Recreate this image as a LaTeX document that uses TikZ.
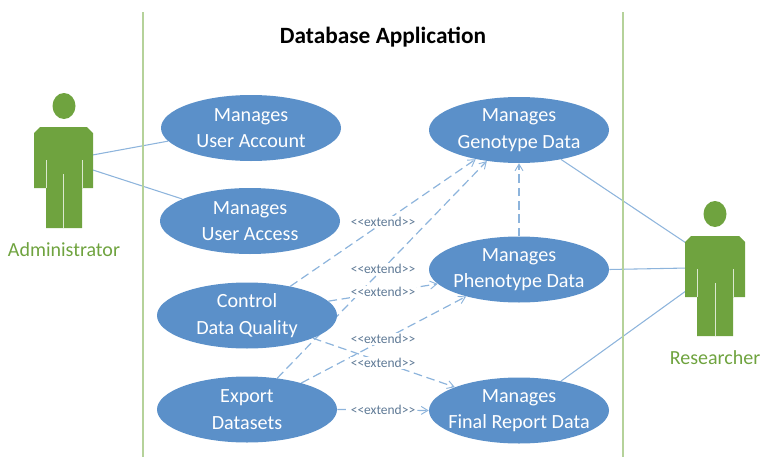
\documentclass[tikz,border=0pt]{standalone}
\usepackage{fontspec}
\setmainfont{Carlito}
\usetikzlibrary{shapes.geometric,arrows.meta,backgrounds}
\definecolor{ucblue}{HTML}{5B90C9}
\definecolor{linkblue}{HTML}{8DB4DC}
\definecolor{actgreen}{HTML}{6FA33F}
\definecolor{lblgray}{HTML}{5F7A96}
\definecolor{frameg}{HTML}{B5D29A}
\newcommand{\extendtxt}{<{}<extend>{}>}
\tikzset{
  usecase/.style={ellipse,fill=ucblue,text=white,minimum width=135pt,minimum height=49.5pt,inner xsep=-20pt,inner ysep=-6pt,align=center,font=\fontsize{15.1}{20}\selectfont},
  solidlink/.style={draw=linkblue,line width=0.8pt},
  extendlink/.style={draw=linkblue,line width=0.9pt,dash pattern=on 6.5pt off 3.5pt,-{Straight Barb[length=5pt,width=6pt,line width=0.7pt]}},
  extendlbl/.style={font=\fontsize{10.1}{12}\selectfont,text=lblgray,fill=white,inner sep=0.6pt},
  actorbox/.style={rectangle,minimum width=44.25pt,minimum height=45.75pt,inner sep=0pt,outer sep=0pt},
  actorlbl/.style={font=\fontsize{15}{17}\selectfont,text=actgreen},
  framel/.style={draw=frameg,line width=1pt},
  seam/.style={draw=white!75!actgreen,line width=0.7pt}
}
\begin{document}
\begin{tikzpicture}[x=0.75pt,y=-0.75pt]
\useasboundingbox (0,0) rectangle (761,457);
\draw[framel] (143,12) -- (143,457);
\draw[framel] (623,12) -- (623,457);
\node[font=\fontsize{17.5}{20}\selectfont\bfseries] (title) at (383,37) {Database Application};

\node[usecase] (acct) at (251,128) {Manages\\User Account};
\node[usecase] (access) at (250,221) {Manages\\User Access};
\node[usecase] (quality) at (247,315.5) {Control\\Data Quality};
\node[usecase] (export) at (247,409.5) {Export\\Datasets};
\node[usecase] (geno) at (519,130) {Manages\\Genotype Data};
\node[usecase] (pheno) at (519,269.5) {Manages\\Phenotype Data};
\node[usecase] (final) at (519,410.5) {Manages\\Final Report Data};

% Administrator
\fill[actgreen] (64,106) ellipse [x radius=11.5,y radius=13];
\fill[actgreen] (40,127) -- (87,127) -- (93,133) -- (93,188) -- (82,188) -- (82,228) -- (46,228) -- (46,188) -- (34,188) -- (34,133) -- cycle;
\draw[seam] (46,160) -- (46,188);
\draw[seam] (82,160) -- (82,188);
\draw[seam] (63.5,174) -- (63.5,228);
\node[actorbox] (admin) at (63.5,157.5) {};
\node[actorlbl] (adminl) at (64,250) {Administrator};

% Researcher
\fill[actgreen] (715,214) ellipse [x radius=11.5,y radius=13];
\fill[actgreen] (691,236) -- (739,236) -- (745,242) -- (745,297) -- (733,297) -- (733,336) -- (697,336) -- (697,297) -- (685,297) -- (685,242) -- cycle;
\draw[seam] (697,269) -- (697,297);
\draw[seam] (733,269) -- (733,297);
\draw[seam] (715,283) -- (715,336);
\node[actorbox] (res) at (715,266.5) {};
\node[actorlbl] (resl) at (715,358) {Researcher};

\begin{scope}[on background layer]
\draw[solidlink] (admin.5) -- (acct.-171);
\draw[solidlink] (admin.-23) -- (access.162);
\draw[solidlink] (geno.-35) -- (res.141);
\draw[solidlink] (pheno.0) -- (res.183);
\draw[solidlink] (final.35) -- (res.220);
\draw[extendlink] (quality.34) -- (geno.-146);
\draw[extendlink] (export.46) -- (geno.-136);
\draw[extendlink] (quality.10) -- (pheno.190);
\draw[extendlink] (export.26) -- (pheno.207);
\draw[extendlink] (quality.-19) -- (final.160);
\draw[extendlink] (export.0) -- (final.180);
\draw[extendlink] (pheno.90) -- (geno.-90);
\end{scope}

\node[extendlbl] (e1) at (383,222) {\extendtxt};
\node[extendlbl] (e2) at (383,269) {\extendtxt};
\node[extendlbl] (e3) at (383,292) {\extendtxt};
\node[extendlbl] (e4) at (383,339) {\extendtxt};
\node[extendlbl] (e5) at (383,363) {\extendtxt};
\node[extendlbl] (e6) at (383,410) {\extendtxt};
\end{tikzpicture}
\end{document}
